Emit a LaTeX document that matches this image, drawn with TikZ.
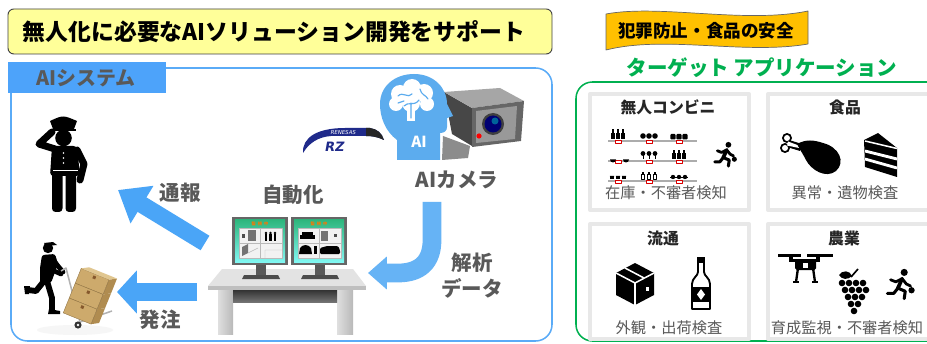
\documentclass[tikz,border=0pt]{standalone}
\usepackage{fontspec}
\setmainfont{Noto Sans CJK JP}
\newfontfamily\logofont[FakeSlant=0.18]{DejaVu Sans}
\usetikzlibrary{arrows.meta,calc}

\definecolor{titlefill}{HTML}{FFFF99}
\definecolor{frameblue}{HTML}{5AABF7}
\definecolor{tabblue}{HTML}{4DA3FA}
\definecolor{arrowblue}{HTML}{4AA5F7}
\definecolor{softblue}{HTML}{66B3F5}
\definecolor{headblue}{HTML}{5CACEE}
\definecolor{labelgray}{HTML}{595959}
\definecolor{darktext}{HTML}{262626}
\definecolor{appgreen}{HTML}{00B050}
\definecolor{bannerfill}{HTML}{FFC000}
\definecolor{panelrim}{HTML}{E8E8E8}
\definecolor{rznavy}{HTML}{1F2A8A}
\definecolor{boxtan}{HTML}{CDAA6C}
\definecolor{boxtop}{HTML}{E0C690}
\definecolor{boxside}{HTML}{B08C50}
\definecolor{screentop}{HTML}{2EB67D}
\definecolor{screenbot}{HTML}{80F7F2}

\newcommand{\fs}[1]{\fontsize{#1}{#1}\selectfont}

\tikzset{
  lbl/.style={font=\bfseries\fs{17.5}, text=labelgray, inner sep=0pt},
  ptitle/.style={font=\bfseries\fs{13.5}, text=darktext, inner sep=0pt},
  pcap/.style={font=\fs{13}, text=labelgray, inner sep=0pt},
  panel/.style={draw=panelrim, line width=3.5pt, fill=white},
  blockarrow/.style={draw=arrowblue, line width=14.5pt},
  shelf/.style={draw=gray!65, line width=2pt},
  pricetag/.style={draw=red!85!black, fill=white, line width=0.5pt},
  limb/.style={draw=black, line width=3.2pt, line cap=round, line join=round},
}

% running figure carrying a bag, centred on the current origin
\newcommand{\runnerfig}{%
  \fill (4,-12) circle (3.4);
  \draw[limb] (2,-6) -- (-2,3);
  \draw[limb, line width=2.4pt] (2,-6) -- (-4,-3) -- (-9,-5);
  \draw[limb, line width=2.4pt] (2,-6) -- (6,-1) -- (10,1);
  \draw[limb, line width=2.6pt] (-2,3) -- (5,6) -- (4,13);
  \draw[limb, line width=2.6pt] (-2,3) -- (-6,8) -- (-12,8);
  \fill (11,5) circle (3);
}

\begin{document}
\begin{tikzpicture}[x=0.03cm,y=-0.03cm, line join=round]
\useasboundingbox (0,0) rectangle (927,344);
\clip (0,0) rectangle (927,344);
\fill[white] (0,0) rectangle (927,344);

% ---------- heading ----------
\draw[black!75, line width=0.8pt, fill=titlefill, rounded corners=5pt] (8,9) rectangle (552,54);
\node[font=\bfseries\fs{19.5}, text=black, inner sep=0pt] (title) at (274,31.5) {無人化に必要なAIソリューション開発をサポート};

% ---------- AI system frame ----------
\draw[frameblue, line width=1.3pt, rounded corners=14pt] (11,68) rectangle (552,341);
\fill[tabblue] (8,62) rectangle (166,93);
\node[font=\bfseries\fs{17}, text=labelgray, inner sep=0pt] (systab) at (86,78) {AIシステム};

% ---------- police officer ----------
\fill (52,129) rectangle (76,131.5);
\fill (53,129) -- (50,121) .. controls (63,115) .. (77,121) -- (74,129) -- cycle;
\fill (63.5,138) circle (8.3);
\fill[rounded corners=3pt] (52,146) -- (77,146) -- (80,176) -- (50,176) -- cycle;
\draw[line width=6pt, line cap=round] (55,149) -- (39,144) -- (52,132);
\draw[line width=6pt, line cap=round] (77,150) -- (84,164) -- (80,180);
\fill[rounded corners=3pt] (52,172) rectangle (62.5,212);
\fill[rounded corners=3pt] (65.5,172) rectangle (76,212);
\draw[white, line width=1.2pt] (53,170.5) -- (78,170.5);
\foreach \yy in {153,158,163} \fill[white] (63.5,\yy) circle (0.9);
\coordinate (officer) at (118,190);

% ---------- delivery worker with hand truck ----------
\fill[gray!7] (75,330) ellipse (38 and 5);
\fill (48,248) circle (5.2);
\fill (44,243) -- (53,242) -- (57,245) -- (46,246) -- cycle;
\fill[rounded corners=2pt] (42,255) -- (55,254) -- (58,264) -- (51,283) -- (40,283) -- (40,268) -- cycle;
\draw[line width=4pt, line cap=round] (52,258) -- (58,266) -- (63,272);
\draw[line width=4pt, line cap=round] (46,262) -- (52,270) -- (61,274);
\draw[line width=5pt, line cap=round] (44,281) -- (36,291) -- (28,290);
\draw[line width=5pt, line cap=round] (47,281) -- (52,298) -- (52,311);
\fill (49,309) -- (60,311) -- (60,314) -- (48,314) -- cycle;
\fill (24,286) -- (30,286) -- (29,294) -- (25,294) -- cycle;
\draw[gray!60, line width=1.3pt] (61,271) -- (66,268) -- (80,322);
\draw[gray!60, line width=1.3pt] (80,322) -- (112,311);
\begin{scope}[shift={(88,297)}, rotate=-22]
  \foreach \yy in {-24,-8,8} {
    \fill[boxtan] (-17,\yy) rectangle (13,\yy+16);
    \fill[boxside] (13,\yy) -- (20,\yy-4) -- (20,\yy+12) -- (13,\yy+16) -- cycle;
    \draw[boxside!80!black, line width=0.3pt] (-17,\yy) rectangle (13,\yy+16);
    \fill[brown!70!black] (-3,\yy+2) rectangle (0,\yy+5);
  }
  \fill[boxtop] (-17,-24) -- (13,-24) -- (20,-28) -- (-10,-28) -- cycle;
\end{scope}
\fill[black!80] (78,325) circle (3.6);
\fill[white] (78,325) circle (1.3);
\coordinate (courier) at (117,292);

% ---------- desk with monitors ----------
\fill[gray!22] (222,269) -- (353,269) -- (366,286) -- (208,286) -- cycle;
\fill[gray!50] (208,286) rectangle (366,290);
\shade[left color=gray!25, right color=gray!55] (218,290) rectangle (233,334);
\shade[left color=gray!25, right color=gray!55] (337,290) rectangle (353,334);
\shade[top color=black!80, bottom color=black!55] (233,290) rectangle (337,302);
\foreach \mx in {0,59} {
  \begin{scope}[xshift=\mx*0.03cm]
    \fill[black!65] (256,264) rectangle (266,276);
    \fill[black!70] (244,275) -- (278,275) -- (280,279) -- (242,279) -- cycle;
    \fill[black!60] (232,217) rectangle (288,265);
    \shade[top color=screentop, bottom color=screenbot] (235,220) rectangle (285,262);
    \fill[gray!10] (239,228) rectangle (282,258);
    \draw[gray!55, line width=0.4pt] (239,228) rectangle (282,258);
    \draw[gray!55, line width=0.4pt] (260,228) -- (260,258) (239,243) -- (282,243);
    \node[font=\bfseries\fs{3.6}, text=orange!90!red, inner sep=0pt] at (260,224) {監\ \ 視\ \ 中};
  \end{scope}
}
% left screen contents
\fill[black!70] (242,234) rectangle (245,238);
\fill[black!55] (248,230) rectangle (256,241);
\foreach \fx in {266,270.5,275} {\fill (\fx,233) circle (1.3); \fill (\fx-1.4,234.5) rectangle (\fx+1.4,241);}
\fill[black!55] (242,256) -- (242,247) -- (248,244) -- (248,253) -- cycle;
\draw[gray!55, line width=0.4pt] (248,253) -- (258,248) (265,250) -- (282,250) (265,250) -- (265,258);
% right screen contents
\fill (300,235) rectangle (315,239);
\fill (302,232) rectangle (313,235);
\fill[black!55] (321,231) rectangle (328,241);
\fill[black!70] (334,234) rectangle (337,237);
\fill (299,254) -- (300,248) .. controls (303,244) and (308,244) .. (311,248) -- (312,254) -- cycle;
\fill (314,246) rectangle (317,254);
\fill[rounded corners=1pt] (320,254) -- (320,248) -- (327,246) -- (338,246) -- (340,250) -- (340,254) -- cycle;
\coordinate (deskleft) at (205,243);
\coordinate (deskside) at (197,292);
\coordinate (deskright) at (368,273);

% ---------- Renesas RZ badge ----------
\fill[rznavy] (303,153) .. controls (302,137) and (318,128) .. (345,128) -- (370,128)
  .. controls (377,129) and (382,133) .. (384,140) .. controls (378,137) and (372,136) .. (366,136)
  -- (331,136) .. controls (318,137) and (309,143) .. (303,153) -- cycle;
\fill[black!85] (366,128) -- (370,128) .. controls (377,129) and (382,133) .. (384,140)
  .. controls (378,137) and (372,136) .. (366,136) -- cycle;
\node[font=\logofont\fs{4.6}, text=white, inner sep=0pt] (renesas) at (343,132.2) {RENESAS};
\node[font=\logofont\bfseries\fs{11}, text=rznavy, inner sep=0pt] (rz) at (334,146.5) {RZ};

% ---------- surveillance camera ----------
\fill[black!45] (443,136) -- (470,146) -- (468,158) -- (442,160) -- cycle;
\fill[black!72] (444,92) -- (472,108) -- (472,146) -- (452,134) -- cycle;
\fill[black!35] (444,92) -- (500,88) -- (524,101) -- (472,108) -- cycle;
\fill[black!60] (472,108) -- (524,101) -- (521,141) -- (472,147) -- cycle;
\fill[black!40] (476,111) -- (517,106) -- (515,139) -- (476,143) -- cycle;
\fill[black!75] (493,124) circle (11);
\fill[blue!45!black] (493,124) circle (8.5);
\fill[blue!35!cyan!60!black] (495,121) circle (3.5);
\fill[red] (479,136) circle (2.6);

% ---------- AI head icon ----------
\fill[headblue] (397,160) -- (397,140) .. controls (385,131) and (380,117) .. (380,104)
  .. controls (380,86) and (395,74) .. (414,74) .. controls (434,74) and (447,88) .. (447,104)
  -- (453,116) -- (447,118) -- (447,127) .. controls (447,131) and (444,133) .. (440,133)
  -- (440,160) -- cycle;
\foreach \bx/\by/\br in {400/94/9, 412/88/9, 424/93/9, 427/104/7, 396/104/7, 411/103/9}
  \fill[white] (\bx,\by) circle (\br);
\fill[white] (407,108) rectangle (415,121);
\draw[headblue, line width=1pt, line cap=round]
  (398,96) .. controls (403,91) and (408,99) .. (412,94)
  (404,106) .. controls (408,101) and (414,107) .. (419,100)
  (420,89) .. controls (421,95) and (426,95) .. (428,99)
  (411,103) -- (411,118) (398,103) -- (404,101);
\node[font=\bfseries\fs{13}, text=white, inner sep=0pt] (aibadge) at (419,142) {AI};
\coordinate (camerafoot) at (432,202);

% ---------- flow arrows ----------
\draw[blockarrow, -{Triangle[length=24pt,width=36pt]}] (deskleft) -- (officer);
\draw[blockarrow, line width=16pt, -{Triangle[length=17pt,width=36pt]}] (deskside) -- (courier);
\draw[draw=softblue, line width=16pt, -{Triangle[length=16pt,width=27pt]}]
  (camerafoot) -- (432,240) .. controls (432,262) and (420,273) .. (398,273) -- (deskright);

% ---------- labels in the system frame ----------
\node[lbl] (report) at (180,193) {通報};
\node[lbl] (order) at (160,320) {発注};
\node[lbl] (auto) at (293,195) {自動化};
\node[lbl] (aicam) at (457,180) {AIカメラ};
\node[lbl] (analysis) at (472,263) {解析};
\node[lbl] (data) at (472,288) {データ};

% ---------- banner ----------
\draw[black!60, line width=0.6pt, fill=bannerfill]
  (606,14) .. controls (660,4) and (745,24) .. (808,11) -- (808,44)
  .. controls (745,55) and (665,35) .. (606,50) -- cycle;
\node[font=\bfseries\fs{15}, text=black, inner sep=0pt] (banner) at (706,31) {犯罪防止・食品の安全};
\node[font=\bfseries\fs{17.5}, text=appgreen, inner sep=0pt] (apphead) at (762,68) {ターゲット アプリケーション};

% ---------- application frame ----------
\draw[appgreen, line width=1.3pt, rounded corners=14pt] (576,82) rectangle (945,341);
\draw[panel] (590,94) rectangle (749,210);
\draw[panel] (768,94) rectangle (940,210);
\draw[panel] (590,224) rectangle (749,339);
\draw[panel] (768,224) rectangle (940,339);

\node[ptitle] (shop) at (668,107) {無人コンビニ};
\node[pcap] (shopcap) at (666,193) {在庫・不審者検知};
\node[ptitle] (food) at (845,107) {食品};
\node[pcap] (foodcap) at (845,193) {異常・遺物検査};
\node[ptitle] (logi) at (663,238) {流通};
\node[pcap] (logicap) at (669,328) {外観・出荷検査};
\node[ptitle] (farm) at (844,238) {農業};
\node[pcap] (farmcap) at (847,328) {育成監視・不審者検知};

% ---------- store shelves ----------
\foreach \sy in {141,161,181} \draw[shelf] (608,\sy) -- (697,\sy);
\foreach \sy in {141,161,181} \foreach \gx in {618,649,679}
  \draw[pricetag] (\gx-3,\sy-1) rectangle (\gx+3,\sy+2.5);
% top shelf
\foreach \px in {613,618,623} {\fill (\px-1.6,139.5) rectangle (\px+1.6,133); \fill (\px-0.7,133) rectangle (\px+0.7,129.5);}
\foreach \px in {643,649,655} \fill (\px,136) circle (2.8);
\foreach \px in {673,679,685} \fill[rounded corners=0.8pt] (\px-2.6,139.5) rectangle (\px+2.6,134);
% middle shelf
\foreach \px in {613,626} \fill (\px-3,159.5) arc[start angle=180, end angle=0, radius=3] -- cycle;
\foreach \px in {643,649,655} {\fill (\px,153.5) circle (2.4); \draw[line width=0.8pt] (\px,155) -- (\px,159.5);}
\foreach \px in {674,679,684} {\fill (\px-1.6,159.5) rectangle (\px+1.6,153); \fill (\px-0.7,153) rectangle (\px+0.7,150);}
% bottom shelf
\foreach \px in {612,618,624} {\fill (\px-2.2,179.5) rectangle (\px+2.2,176); \fill (\px-2.2,176) arc[start angle=180, end angle=0, radius=2.2] -- cycle;}
\foreach \px in {643,649,655} \draw[line width=0.6pt, fill=white] (\px-1.5,179.5) rectangle (\px+1.5,174) (\px-0.6,174) -- (\px-0.6,172) (\px+0.6,174) -- (\px+0.6,172);
\foreach \px in {673,679,685} \fill (\px,177) circle (2.2);
\draw[line width=0.7pt] (670,177) -- (688,177);
\begin{scope}[shift={(725,155)}, scale=0.85]
  \runnerfig
\end{scope}

% ---------- food icons ----------
\fill (787,138) circle (5);
\fill (785,148) circle (5);
\fill (789,140) -- (802,144) -- (800,151) -- (787,147) -- cycle;
\fill[white] (787,138) circle (3);
\fill[white] (785,148) circle (3);
\fill[white] (788,141.5) -- (800,146) -- (799,148) -- (787,145.5) -- cycle;
\fill (797,144) .. controls (806,139) and (814,140) .. (823,143)
  .. controls (839,147) and (846,162) .. (836,171)
  .. controls (826,179) and (811,170) .. (806,160)
  .. controls (803,154) and (800,150) .. (797,144) -- cycle;
\fill (864,140) -- (878,133) -- (897,148) -- (897,177) -- (865,167) -- cycle;
\draw[white, line width=1.3pt] (865,141) -- (897,148.5);
\draw[white, line width=2.4pt] (865,151) -- (897,159) (865,159) -- (897,168);

% ---------- logistics icons ----------
\fill (635,263) -- (654,273) -- (654,295) -- (635,305) -- (616,295) -- (616,273) -- cycle;
\draw[white, line width=1.3pt] (616,273) -- (635,283) -- (654,273) (635,283) -- (635,305);
\draw[white, line width=1.3pt] (625,268) -- (644,278);
\fill[white] (646,287) rectangle (649,291);
\draw[line width=1.6pt, fill=white] (698,260) -- (704,260) -- (704,272) .. controls (704,276) and (710,278) .. (710,284)
  -- (710,309) -- (692,309) -- (692,284) .. controls (692,278) and (698,276) .. (698,272) -- cycle;
\fill (697,257) rectangle (705,263);
\fill (692,287) rectangle (710,302);
\fill[white] (701,289) -- (705,294.5) -- (701,300) -- (697,294.5) -- cycle;

% ---------- farming icons ----------
\fill (778,254) rectangle (801,256.5);
\fill (807,254) rectangle (833,256.5);
\fill (789,254) rectangle (793,261);
\fill (816,254) rectangle (820,261);
\fill (789,259) rectangle (820,262);
\fill[rounded corners=1.5pt] (795,259) rectangle (816,270);
\fill[white] (803,263) rectangle (808,267.5);
\draw[line width=2pt] (798,268) -- (796,282) (813,268) -- (815,282);
\draw[line width=1.8pt] (793,282) -- (799,282) (812,282) -- (818,282);
\fill (839,275) .. controls (842,270) and (850,270) .. (852,276) .. controls (848,280) and (842,280) .. (839,275) -- cycle;
\draw[line width=1.4pt] (851,277) -- (858,269);
\foreach \gx/\gy in {842/283, 849/283, 856/283, 863/283, 845/290, 852/290, 859/290, 866/290,
                     848/297, 855/297, 862/297, 851/304, 858/304, 854/311}
  \fill (\gx,\gy) circle (3.3);
\begin{scope}[shift={(900,285)}, scale=1.05]
  \runnerfig
\end{scope}

\end{tikzpicture}
\end{document}
